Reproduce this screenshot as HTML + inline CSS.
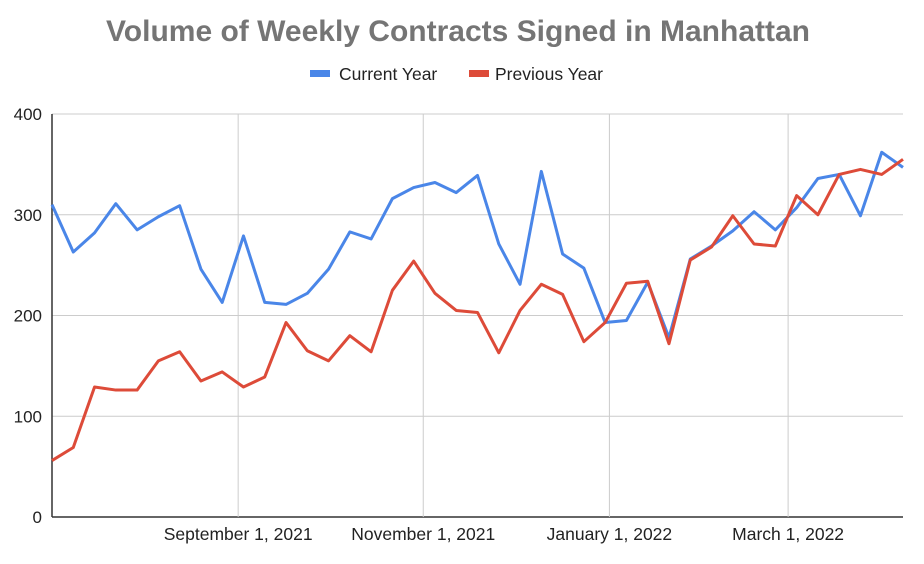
<!DOCTYPE html>
<html><head><meta charset="utf-8"><style>
body{margin:0;background:#fff;font-family:"Liberation Sans",Arial,sans-serif}
svg{display:block}
</style></head><body>
<svg id="c" width="924" height="564">
<text x="458" y="41" text-anchor="middle" font-size="30" font-weight="bold" fill="#757575">Volume of Weekly Contracts Signed in Manhattan</text>
<g>
<g><rect x="310" y="70" width="20" height="7" fill="#4a86e8"/><text x="339" y="80" font-size="17.5" fill="#222">Current Year</text></g>
<g><rect x="469" y="70" width="20" height="7" fill="#dd4b39"/><text x="495" y="80" font-size="17.5" fill="#222">Previous Year</text></g>
</g>
<g id="grid"></g><g id="series"></g>
</svg>
<script>
const yTicks=[0,100,200,300,400];
const xTickLabels=["September 1, 2021","November 1, 2021","January 1, 2022","March 1, 2022"];
const xTickWeekPos=[8.75,17.45,26.2,34.6];
const currentYear=[310,263,282,311,285,298,309,246,213,279,213,211,222,246,283,276,316,327,332,322,339,271,231,343,261,247,193,195,233,178,256,269,284,303,285,307,336,340,299,362,347];
const previousYear=[56,69,129,126,126,155,164,135,144,129,139,193,165,155,180,164,225,254,222,205,203,163,205,231,221,174,193,232,234,172,255,268,299,271,269,319,300,340,345,340,355];
const X0=52,X1=903,Y0=517,Y1=114;
const n=currentYear.length;
const xs=i=>X0+(X1-X0)*i/(n-1);
const ys=v=>Y0-(Y0-Y1)*v/400;
const NS="http://www.w3.org/2000/svg";
const grid=document.getElementById('grid'),ser=document.getElementById('series');
function mk(t,a,p){const e=document.createElementNS(NS,t);for(const k in a)e.setAttribute(k,a[k]);p.appendChild(e);return e;}
yTicks.forEach(v=>{
 const l=mk('line',{x1:X0,x2:X1,y1:ys(v),y2:ys(v),stroke:v===0?'#333':'#ccc','stroke-width':v===0?1.5:1},grid);
 
 
 const t=mk('text',{x:42,y:ys(v)+6,'text-anchor':'end','font-size':17,fill:'#222'},grid);
 t.textContent=v;
 
 
});
xTickLabels.forEach((s,i)=>{
 const x=xs(xTickWeekPos[i]);
 const l=mk('line',{x1:x,x2:x,y1:Y1,y2:Y0,stroke:'#ccc'},grid);
 
 
 const t=mk('text',{x:x,y:540,'text-anchor':'middle','font-size':17.5,fill:'#222'},grid);
 t.textContent=s;
 
 
});
const ax=mk('line',{x1:X0,x2:X0,y1:Y1,y2:Y0,stroke:'#333','stroke-width':1.5},grid);


function line(d,c,name){
 const p=mk('polyline',{points:d.map((v,i)=>xs(i)+','+ys(v)).join(' '),fill:'none',stroke:c,'stroke-width':3,'stroke-linejoin':'round'},ser);
 
 
}
line(currentYear,'#4a86e8','current-year-line');
line(previousYear,'#dd4b39','previous-year-line');
</script>
</body></html>
